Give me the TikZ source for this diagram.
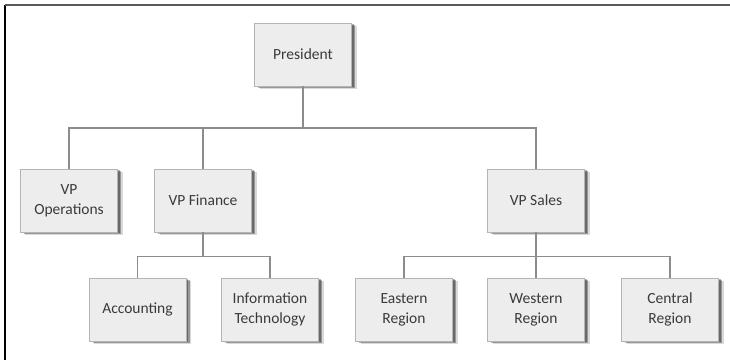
\documentclass[tikz,border=0pt]{standalone}
\usepackage{fontspec}
\setmainfont{Carlito}
\usetikzlibrary{shadows}
\definecolor{boxfill}{HTML}{EDEDED}
\definecolor{boxline}{HTML}{B4B4B4}
\definecolor{txt}{HTML}{3A3A3A}
\definecolor{conn}{HTML}{8C8C8C}
\begin{document}
\begin{tikzpicture}[x=1bp,y=-1bp,
  orgbox/.style={draw=boxline, line width=0.8bp, fill=boxfill,
    minimum width=97bp, minimum height=63bp, inner sep=2bp,
    align=center, text=txt, font=\fontsize{15.5bp}{20bp}\selectfont,
    drop shadow={shadow xshift=5bp, shadow yshift=-3bp, fill=black, opacity=0.15},
    drop shadow={shadow xshift=3.5bp, shadow yshift=-2bp, fill=black, opacity=0.3},
    drop shadow={shadow xshift=2bp, shadow yshift=-1bp, fill=black, opacity=0.3}},
  link/.style={draw=conn, line width=1.8bp}]
\useasboundingbox (0,0) rectangle (730,360);
\draw[black, line width=1.3bp] (5,4.5) -- (5,360);
\draw[gray!70!black, line width=1.6bp] (4.5,5) -- (730,5);
% nodes
\node[orgbox] (pres) at (303,54.5) {President};
\node[orgbox] (ops) at (69,200.5) {VP\\Operations};
\node[orgbox] (fin) at (203,200.5) {VP Finance};
\node[orgbox] (sales) at (536,200.5) {VP Sales};
\node[orgbox] (acc) at (137.5,309.5) {Accounting};
\node[orgbox] (it) at (270,309.5) {Information\\Technology};
\node[orgbox] (east) at (404,309.5) {Eastern\\Region};
\node[orgbox] (west) at (536,309.5) {Western\\Region};
\node[orgbox] (cent) at (670,309.5) {Central\\Region};
% connectors
\coordinate (b1) at (303,128);
\coordinate (b2) at (203,256.5);
\coordinate (b3) at (536,256.5);
\draw[link] (pres.south) -- (b1);
\draw[link] (ops.north) |- (b1);
\draw[link] (fin.north) -- (fin.north |- b1);
\draw[link] (sales.north) |- (b1);
\draw[link] (fin.south) -- (b2);
\draw[link] (acc.north) |- (b2);
\draw[link] (it.north) |- (b2);
\draw[link] (sales.south) -- (b3);
\draw[link] (east.north) |- (b3);
\draw[link] (west.north) -- (b3);
\draw[link] (cent.north) |- (b3);
\end{tikzpicture}
\end{document}
